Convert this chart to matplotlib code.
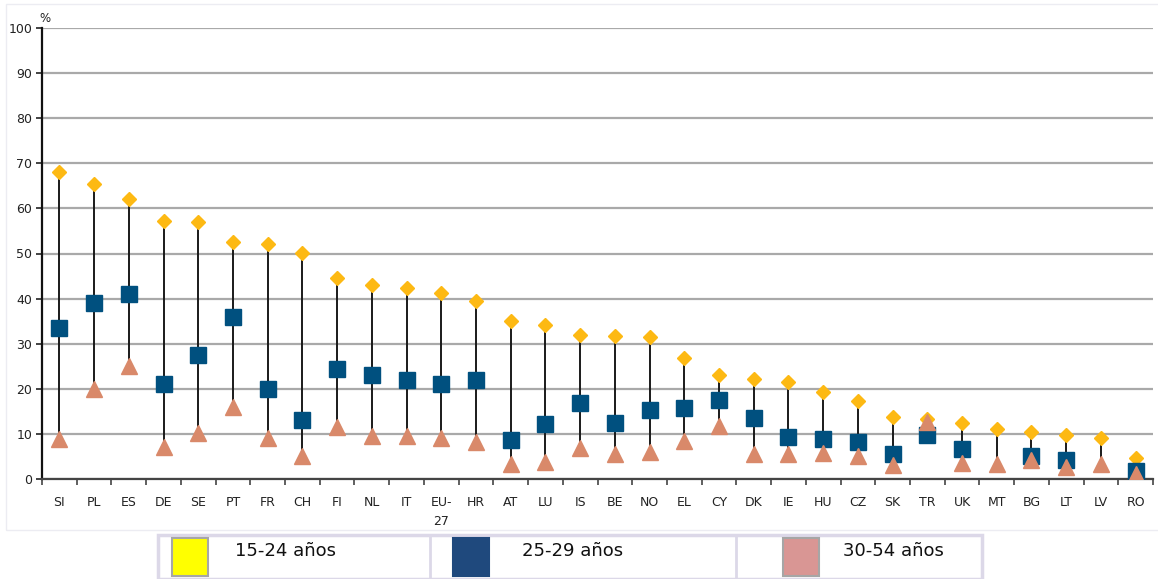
import matplotlib.pyplot as plt
from matplotlib.patches import Rectangle
from matplotlib.lines import Line2D
import numpy as np

countries = ['SI', 'PL', 'ES', 'DE', 'SE', 'PT', 'FR', 'CH', 'FI', 'NL', 'IT', 'EU-\n27',
             'HR', 'AT', 'LU', 'IS', 'BE', 'NO', 'EL', 'CY', 'DK', 'IE', 'HU', 'CZ',
             'SK', 'TR', 'UK', 'MT', 'BG', 'LT', 'LV', 'RO']

age_15_24 = [68.0, 65.5, 62.0, 57.3, 57.0, 52.5, 52.0, 50.2, 44.5, 43.0, 42.3, 41.2,
             39.5, 35.0, 34.2, 32.0, 31.7, 31.4, 26.8, 23.1, 22.2, 21.4, 19.2, 17.3,
             13.7, 13.3, 12.4, 11.0, 10.4, 9.8, 9.0, 4.6]
age_25_29 = [33.5, 39.0, 41.0, 21.0, 27.5, 36.0, 20.0, 13.0, 24.5, 23.0, 22.0, 21.0,
             22.0, 8.7, 12.2, 16.8, 12.5, 15.3, 15.7, 17.5, 13.5, 9.3, 8.8, 8.1,
             5.6, 9.7, 6.6, np.nan, 5.2, 4.2, np.nan, 1.8]
age_30_54 = [8.8, 20.0, 25.0, 7.0, 10.3, 16.0, 9.0, 5.0, 11.5, 9.5, 9.5, 9.2,
             8.2, 3.3, 3.8, 6.8, 5.5, 6.0, 8.5, 11.8, 5.5, 5.6, 5.8, 5.1,
             3.2, 12.7, 3.6, 3.3, 4.2, 2.6, 3.3, 1.1]

legend_labels = ['15-24 años', '25-29 años', '30-54 años']

W, H = 1158, 579
fig = plt.figure(figsize=(W / 100, H / 100), dpi=100)
plt.rcParams['font.family'] = 'DejaVu Sans'

# outer faint frame
fig.patches.append(Rectangle((6 / W, 1 - 530 / H), 1160 / W, 526 / H, transform=fig.transFigure,
                             fill=False, edgecolor='#ECECF2', linewidth=1))

ax = fig.add_axes([42 / W, 1 - 479 / H, (1153 - 42) / W, (479 - 28) / H])
x = np.arange(len(countries))
hi = np.array(age_15_24)
lo = np.nanmin(np.vstack([age_15_24, age_25_29, age_30_54]), axis=0)

ax.set_ylim(0, 100)
ax.set_xlim(-0.5, len(countries) - 0.5)
ax.set_yticks(range(0, 101, 10))
ax.grid(axis='y', color='#A9A9A9', linewidth=1.6)
ax.set_axisbelow(True)

ax.vlines(x, lo, hi, color='#1a1a1a', linewidth=1.4, zorder=2)
ax.plot(x, age_15_24, 'D', color='#FDB913', markersize=7, zorder=3, linestyle='none')
ax.plot(x, age_25_29, 's', color='#00507F', markersize=12, zorder=4, linestyle='none')
ax.plot(x, age_30_54, '^', color='#D9896A', markersize=11, zorder=5, linestyle='none')

ax.set_xticks(x)
ax.set_xticklabels(countries, fontsize=9, color='#222222', linespacing=1.6)
ax.set_xticks(np.arange(-0.5, len(countries), 1), minor=True)
ax.tick_params(axis='x', which='major', length=0, pad=12)
ax.tick_params(axis='x', which='minor', length=4, width=1.2, color='#444444', direction='out')
ax.tick_params(axis='y', length=4, width=1.2, color='#222222', labelsize=9, labelcolor='#222222', pad=3)

for s in ['top', 'right']:
    ax.spines[s].set_visible(False)
ax.spines['left'].set_linewidth(1.6)
ax.spines['left'].set_color('#111111')
ax.spines['bottom'].set_linewidth(1.6)
ax.spines['bottom'].set_color('#444444')

fig.text(39 / W, 1 - 18 / H, '%', fontsize=8.5, color='#222222', va='center', ha='left')

# legend table below the chart
lx0, lx1, ly0, ly1 = 158, 982, 535, 579
fig.patches.append(Rectangle((lx0 / W, 1 - ly1 / H), (lx1 - lx0) / W, (ly1 - ly0) / H,
                             transform=fig.transFigure, fill=False, edgecolor='#DCD8E8', linewidth=2.5))
for dx in [430, 736]:
    fig.lines.append(Line2D([dx / W, dx / W], [1 - ly1 / H, 1 - ly0 / H], transform=fig.transFigure,
                            color='#DCD8E8', linewidth=2))
patch_x = [172, 453, 783]
patch_fc = ['#FFFF00', '#1F497D', '#D99694']
patch_ec = ['#A6A6A6', '#1F497D', '#A6A6A6']
text_x = [235, 522, 843]
for px, fc, ec, tx, lab in zip(patch_x, patch_fc, patch_ec, text_x, legend_labels):
    fig.patches.append(Rectangle((px / W, 1 - 576 / H), 36 / W, 38 / H, transform=fig.transFigure,
                                 facecolor=fc, edgecolor=ec, linewidth=1.5))
    fig.text(tx / W, 1 - 551 / H, lab, fontsize=13, color='#111111', va='center', ha='left')

fig.savefig('out.png', dpi=100)
